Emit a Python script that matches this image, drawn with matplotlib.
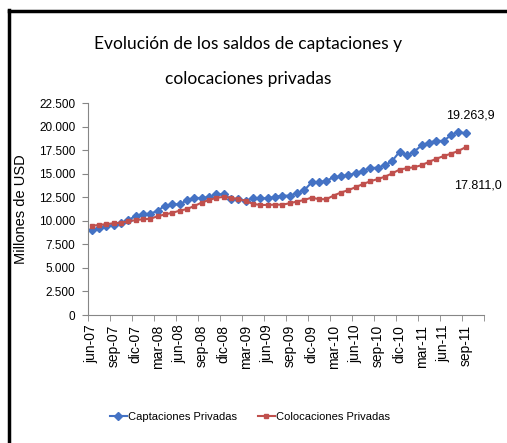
import matplotlib
matplotlib.use("Agg")
import matplotlib.pyplot as plt
from matplotlib.lines import Line2D

# --- DATOS ---
captaciones = [9000, 9240, 9460, 9530, 9810, 10060, 10530, 10710, 10750, 11070,
               11600, 11750, 11750, 12180, 12460, 12390, 12540, 12820, 12790, 12320,
               12290, 12140, 12390, 12390, 12390, 12540, 12680, 12660, 12930, 13250,
               14080, 14080, 14260, 14610, 14720, 14860, 15040, 15330, 15580, 15650,
               15870, 16370, 17340, 16940, 17340, 18020, 18300, 18480, 18480, 19090,
               19450, 19263.9]
colocaciones = [9460, 9560, 9640, 9740, 9780, 9960, 10060, 10170, 10210, 10490,
                10670, 10850, 11070, 11250, 11570, 11930, 12210, 12430, 12540, 12430,
                12290, 12110, 11790, 11680, 11680, 11710, 11710, 11860, 12040, 12210,
                12460, 12290, 12290, 12680, 13000, 13250, 13570, 13900, 14190, 14430,
                14680, 15040, 15440, 15580, 15690, 15900, 16260, 16580, 16870, 17120,
                17410, 17811.0]
tick_labels = ["jun-07", "sep-07", "dic-07", "mar-08", "jun-08", "sep-08", "dic-08",
               "mar-09", "jun-09", "sep-09", "dic-09", "mar-10", "jun-10", "sep-10",
               "dic-10", "mar-11", "jun-11", "sep-11"]
y_ticks = [0, 2500, 5000, 7500, 10000, 12500, 15000, 17500, 20000, 22500]

AZUL = "#4472C4"
ROJO = "#C0504D"
FUENTE = "Liberation Sans"

W, H = 507, 443
fig = plt.figure(figsize=(W / 100, H / 100), dpi=100)
ax = fig.add_axes([88 / W, 1 - 315 / H, (484 - 88) / W, (315 - 103) / H])

x = list(range(len(captaciones)))
ax.plot(x, captaciones, color=AZUL, lw=1.5, marker="D", ms=3.6, label="Captaciones Privadas")
ax.plot(x, colocaciones, color=ROJO, lw=1.5, marker="s", ms=2.8, label="Colocaciones Privadas")

ax.set_xlim(-0.5, len(x) - 0.5)
ax.set_ylim(0, 22500)
ax.set_yticks(y_ticks)
ax.set_yticklabels([f"{v:,}".replace(",", ".") for v in y_ticks], family=FUENTE, fontsize=8.5)
ax.set_xticks(x[::3])
ax.set_xticklabels(tick_labels, rotation=90, family=FUENTE, fontsize=10)
ax.set_xticks([i + 2.5 for i in x[::3]] + [-0.5], minor=True)
ax.tick_params(axis="x", which="major", length=0, pad=7)
ax.tick_params(axis="x", which="minor", length=4, color="#868686")
ax.tick_params(axis="y", length=4, color="#868686", pad=5)

for s in ["top", "right"]:
    ax.spines[s].set_visible(False)
for s in ["left", "bottom"]:
    ax.spines[s].set_color("#868686")

ax.set_ylabel("Millones de USD", family=FUENTE, fontsize=10.5, labelpad=8)

fig.text(470 / W, 1 - 116 / H, "19.263,9", family=FUENTE, fontsize=9,
         ha="center", va="center")
fig.text(478 / W, 1 - 186 / H, "17.811,0", family=FUENTE, fontsize=9,
         ha="center", va="center")

fig.text(248 / W, 1 - 44 / H, "Evolución de los saldos de captaciones y",
         family=["Lato", "DejaVu Sans"], fontsize=12.5, ha="center", va="center")
fig.text(248 / W, 1 - 79 / H, "colocaciones privadas",
         family=["Lato", "DejaVu Sans"], fontsize=12.5, ha="center", va="center")

fig.legend(loc="center", bbox_to_anchor=(250 / W, 1 - 417 / H), ncol=2, frameon=False,
           prop={"family": FUENTE, "size": 8}, handlelength=1.6, handletextpad=0.1,
           columnspacing=1.8)

# marco negro (izquierda y arriba)
fig.add_artist(Line2D([9 / W, 9 / W], [0, 1 - 10 / H], color="black", lw=2.5,
                      transform=fig.transFigure))
fig.add_artist(Line2D([9 / W, 1], [1 - 11 / H, 1 - 11 / H], color="black", lw=2.5,
                      transform=fig.transFigure))

fig.savefig("out.png", dpi=100)
